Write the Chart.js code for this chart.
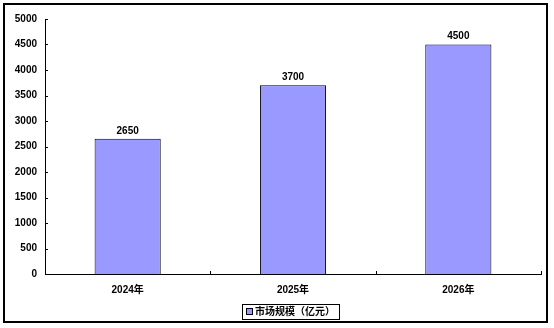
<!DOCTYPE html>
<html><head><meta charset="utf-8">
<script src="https://cdn.jsdelivr.net/npm/chart.js@4"></script>
<style>html,body{margin:0;padding:0;background:#fff}#w{width:554px;height:328px}</style>
</head><body><div id="w"><canvas id="c" width="554" height="328"></canvas></div>
<script>
const categories = ["2024年", "2025年", "2026年"];
const marketSize = [2650, 3700, 4500];
const seriesName = "市场规模（亿元）";
const yTicks = [0, 500, 1000, 1500, 2000, 2500, 3000, 3500, 4000, 4500, 5000];

const FONT = '"Liberation Sans", Arial, "Noto Sans CJK SC", sans-serif';
const BAR = '#9999FF';

const extras = {
  id: 'extras',
  afterDraw(chart) {
    const ctx = chart.ctx, ca = chart.chartArea;
    const ys = chart.scales.y;
    ctx.save();
    ctx.strokeStyle = '#000'; ctx.lineWidth = 2;
    ctx.strokeRect(4, 4, 543, 318);
    ctx.lineWidth = 1;
    ctx.beginPath();
    yTicks.forEach(v => {
      const y = Math.round(ys.getPixelForValue(v)) + 0.5;
      ctx.moveTo(ca.left, y); ctx.lineTo(ca.left + 3, y);
    });
    for (let i = 0; i <= categories.length; i++) {
      const x = Math.round(ca.left + (ca.right - ca.left) * i / categories.length) + 0.5;
      ctx.moveTo(x, ca.bottom); ctx.lineTo(x, ca.bottom - 3);
    }
    ctx.stroke();
    ctx.fillStyle = '#000';
    ctx.font = 'bold 10px ' + FONT;
    ctx.textAlign = 'center'; ctx.textBaseline = 'middle';
    chart.getDatasetMeta(0).data.forEach((bar, i) => {
      ctx.fillText(String(marketSize[i]), bar.x, bar.y - 8);
    });
    ctx.textAlign = 'left';
    const lx = 242.5, ly = 304.5, lw = 97, lh = 15;
    ctx.fillStyle = '#fff';
    ctx.fillRect(lx, ly, lw, lh);
    ctx.strokeStyle = '#000';
    ctx.strokeRect(lx, ly, lw, lh);
    ctx.fillStyle = BAR;
    ctx.fillRect(246.5, 308.5, 6, 6);
    ctx.strokeRect(246.5, 308.5, 6, 6);
    ctx.fillStyle = '#000';
    ctx.fillText(seriesName, 255, 312);
    ctx.restore();
  }
};

new Chart(document.getElementById('c'), {
  type: 'bar',
  data: {
    labels: categories,
    datasets: [{
      label: seriesName,
      data: marketSize,
      backgroundColor: BAR,
      borderColor: '#000',
      borderWidth: 1,
      barPercentage: 0.4,
      categoryPercentage: 1.0
    }]
  },
  options: {
    responsive: false,
    animation: false,
    layout: { padding: { top: 19, right: 13, bottom: 0, left: 0 } },
    plugins: { legend: { display: false }, tooltip: { enabled: false } },
    scales: {
      x: {
        grid: { display: false, drawTicks: false },
        border: { display: true, color: '#000', width: 1 },
        ticks: { color: '#000', font: { family: FONT, size: 10, weight: 'bold' }, padding: 10, maxRotation: 0 },
        afterFit(s) { s.height = 54; }
      },
      y: {
        min: 0, max: 5000,
        afterBuildTicks(s) { s.ticks = yTicks.map(v => ({ value: v })); },
        grid: { display: false, drawTicks: false },
        border: { display: true, color: '#000', width: 1 },
        ticks: { color: '#000', font: { family: FONT, size: 10, weight: 'bold' }, padding: 8,
                 callback: v => String(v) },
        afterFit(s) { s.width = 45; }
      }
    }
  },
  plugins: [extras]
});
</script></body></html>
